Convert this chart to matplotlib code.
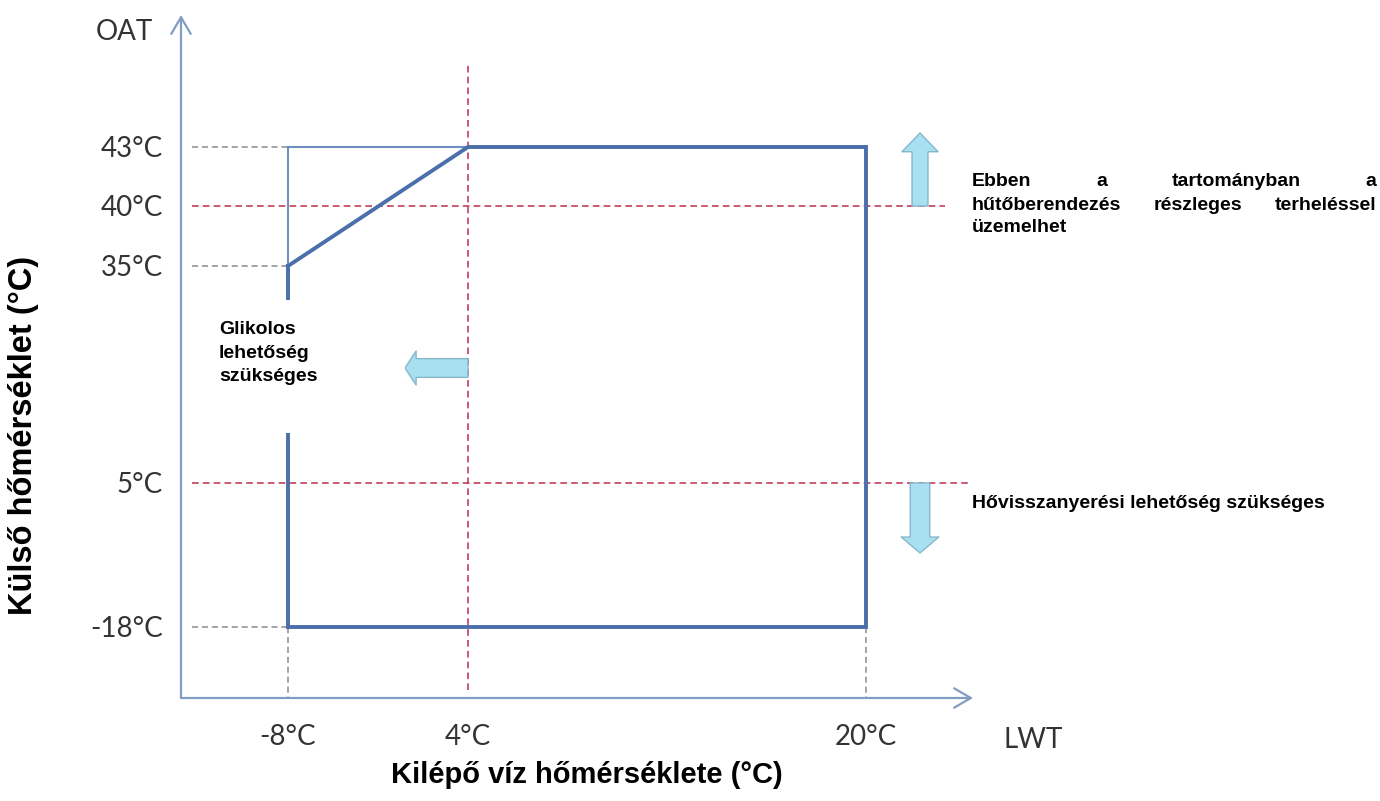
import numpy as np
import matplotlib
matplotlib.use("Agg")
import matplotlib.pyplot as plt
from matplotlib.patches import Rectangle

# ---- data ----
lwt_ticks = [-8, 4, 20]
lwt_labels = ["-8°C", "4°C", "20°C"]
oat_ticks = [43, 40, 35, 5, -18]
oat_labels = ["43°C", "40°C", "35°C", "5°C", "-18°C"]

# operating envelope (LWT, OAT)
env_lwt = [-8, 4, 20, 20, -8, -8]
env_oat = [35, 43, 43, -18, -18, 35]
# thin alternative boundary
alt_lwt = [-8, -8, 4]
alt_oat = [35, 43, 43]
# red reference lines
red_oat = [40, 5]
red_lwt = 4

# ---- layout (pixel anchors of the original, non-linear axes) ----
W, H = 1380, 801
x_anchor_px = [288, 468, 866]
y_anchor_px = [627, 483, 266, 206, 147]   # for oat sorted ascending
ax_left_px, ax_right_px = 181, 973
ax_bottom_px, ax_top_px = 698, 15


def piecewise(vals, pos):
    v = np.asarray(vals, float)
    p = np.asarray(pos, float)
    o = np.argsort(v)
    v, p = v[o], p[o]

    def make(a, b):
        sl0 = (b[1] - b[0]) / (a[1] - a[0])
        sl1 = (b[-1] - b[-2]) / (a[-1] - a[-2])

        def f(x):
            x = np.asarray(x, float)
            y = np.interp(x, a, b)
            y = np.where(x < a[0], b[0] + (x - a[0]) * sl0, y)
            y = np.where(x > a[-1], b[-1] + (x - a[-1]) * sl1, y)
            return y
        return f
    return make(v, p), make(p, v)


xf, xi = piecewise(lwt_ticks, x_anchor_px)
oat_sorted = sorted(oat_ticks)
yf, yi = piecewise(oat_sorted, [-p for p in y_anchor_px])

fig = plt.figure(figsize=(W / 100, H / 100), dpi=100)
ax = fig.add_axes([ax_left_px / W, (H - ax_bottom_px) / H,
                   (ax_right_px - ax_left_px) / W, (ax_bottom_px - ax_top_px) / H])
ax.set_xscale('function', functions=(xf, xi))
ax.set_yscale('function', functions=(yf, yi))
ax.set_xlim(float(xi(ax_left_px)), float(xi(ax_right_px)))
ax.set_ylim(float(yi(-ax_bottom_px)), float(yi(-ax_top_px)))
for s in ax.spines.values():
    s.set_visible(False)
ax.patch.set_alpha(0)

tick_font = dict(family=["Lato", "DejaVu Sans"], size=20, color="#333333")
ax.set_xticks(lwt_ticks)
ax.set_xticklabels(lwt_labels, **tick_font)
ax.set_yticks(oat_ticks)
ax.set_yticklabels(oat_labels, **tick_font)
ax.tick_params(axis='x', length=0, pad=19)
ax.tick_params(axis='y', length=0, pad=13)
ax.minorticks_off()

axis_col = "#819dc2"
blue = "#4a6faa"
thin_blue = "#6f8fc0"
gray = "#8c8c8c"
red = "#c2405a"

x0, x1 = ax.get_xlim()
y0, y1 = ax.get_ylim()
guide_x0 = float(xi(192))

# axes with arrows
for tip in [(x1, y0), (x0, y1)]:
    ax.annotate("", xy=tip, xytext=(x0, y0), xycoords='data',
                arrowprops=dict(arrowstyle="->,head_length=0.6,head_width=0.35",
                                color=axis_col, lw=1.6, shrinkA=0, shrinkB=0, mutation_scale=20))

dash = (0, (4, 2.5))
# gray guide lines
for oy in [43, 35, -18]:
    ax.plot([guide_x0, -8], [oy, oy], color=gray, lw=1.1, ls=dash, zorder=2)
for lx in [-8, 20]:
    ax.plot([lx, lx], [-18, y0], color=gray, lw=1.1, ls=dash, zorder=2)

# red reference lines
ax.plot([guide_x0, float(xi(945))], [red_oat[0]] * 2, color=red, lw=1.2, ls=dash, zorder=2)
ax.plot([guide_x0, float(xi(968))], [red_oat[1]] * 2, color=red, lw=1.2, ls=dash, zorder=2)
ax.plot([red_lwt, red_lwt], [float(yi(-690)), float(yi(-62))], color=red, lw=1.2, ls=dash, zorder=2)

# envelope
ax.plot(alt_lwt, alt_oat, color=thin_blue, lw=1.5, zorder=3, solid_joinstyle='miter')
ax.plot(env_lwt, env_oat, color=blue, lw=2.8, zorder=4, solid_joinstyle='miter')

# white boxes for notes
def fig_rect(x, y, w, h):
    fig.patches.append(Rectangle((x / W, 1 - (y + h) / H), w / W, h / H,
                                 transform=fig.transFigure, facecolor="white",
                                 edgecolor="none", zorder=5))

fig_rect(200, 300, 205, 133)
fig_rect(948, 160, 432, 90)
fig_rect(950, 484, 430, 80)

# block arrows
arr_fc = "#a9e0f1"
arr_ec = "#86b7cc"
def block_arrow(tail, tip, tw, hw, hl):
    ax.annotate("", xy=tip, xytext=tail, xycoords='figure pixels', textcoords='figure pixels',
                arrowprops=dict(arrowstyle=f"simple,tail_width={tw},head_width={hw},head_length={hl}",
                                fc=arr_fc, ec=arr_ec, lw=1.0, shrinkA=0, shrinkB=0,
                                mutation_scale=1), zorder=6)

block_arrow((920, H - 206), (920, H - 133), 11.5, 26, 13.5)
block_arrow((920, H - 483), (920, H - 553), 14, 27, 11.5)
block_arrow((468, H - 368), (405, H - 368), 13.5, 24.5, 8)

note_font = dict(family=["Liberation Sans", "DejaVu Sans"], weight="bold", size=14, color="black")
# left note
for i, line in enumerate(["Glikolos", "lehetőség", "szükséges"]):
    fig.text(219 / W, 1 - (330 + 23 * i) / H, line, ha="left", va="center", zorder=7, **note_font)

# right upper note (justified between two edges)
just_left, just_right = 972, 1376
renderer = fig.canvas.get_renderer()

def justified(words, ypx):
    texts = [fig.text(0, 1 - ypx / H, w, ha="left", va="center", zorder=7, **note_font) for w in words]
    widths = [t.get_window_extent(renderer).width for t in texts]
    gap = (just_right - just_left - sum(widths)) / (len(words) - 1)
    xp = just_left
    for t, w in zip(texts, widths):
        t.set_x(xp / W)
        xp += w + gap

justified(["Ebben", "a", "tartományban", "a"], 182)
justified(["hűtőberendezés", "részleges", "terheléssel"], 205)
fig.text(just_left / W, 1 - 228 / H, "üzemelhet", ha="left", va="center", zorder=7, **note_font)

fig.text(just_left / W, 1 - 503 / H, "Hővisszanyerési lehetőség szükséges", ha="left", va="center",
         zorder=7, **note_font)

# axis name labels
name_font = dict(family=["Lato", "DejaVu Sans"], size=20, color="#333333")
fig.text(124 / W, 1 - 32 / H, "OAT", ha="center", va="center", **name_font)
fig.text(1033 / W, 1 - 740 / H, "LWT", ha="center", va="center", **name_font)

label_font = dict(family=["Liberation Sans", "DejaVu Sans"], weight="bold", color="black")
fig.text(587 / W, 1 - 775 / H, "Kilépő víz hőmérséklete (°C)", ha="center", va="center",
         size=21, **label_font)
fig.text(24 / W, 1 - 435 / H, "Külső hőmérséklet (°C)", ha="center", va="center",
         rotation=90, size=23.5, **label_font)

fig.savefig("out.png", dpi=100, facecolor="white")
